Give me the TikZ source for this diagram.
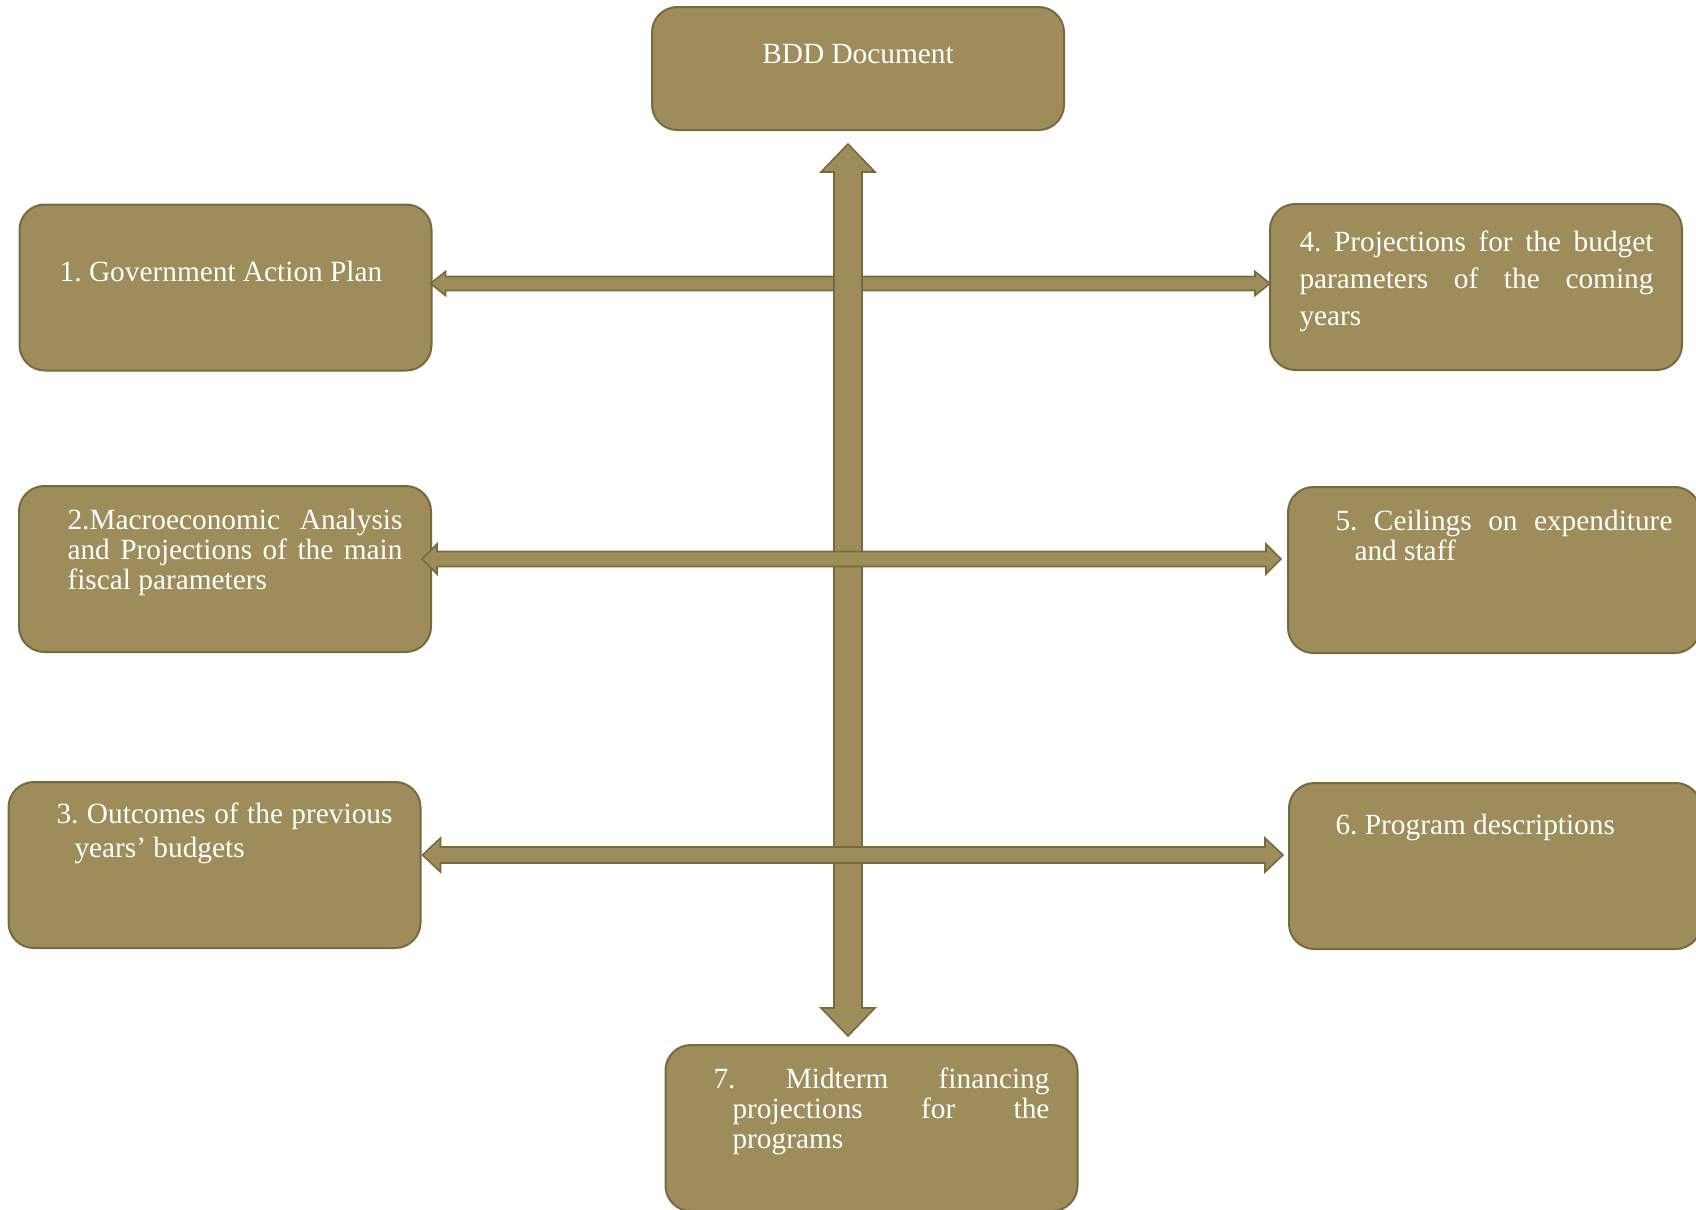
\documentclass[tikz,border=0pt]{standalone}
\usepackage{fontspec}
\setmainfont{Liberation Serif}
\usetikzlibrary{calc}
\frenchspacing

\definecolor{boxfill}{RGB}{158,140,91}
\definecolor{boxline}{RGB}{118,106,62}

% one justified line of a box text
\newcommand{\jline}[2]{\makebox[#1][s]{#2}}

% block arrow with two heads: tips #1 and #2, shaft half width #3, head half width #4, head length #5
\newcommand{\dblarrow}[5]{%
  \coordinate (da-a) at ($(#1)!#5!(#2)$);
  \coordinate (da-b) at ($(#2)!#5!(#1)$);
  \draw[fatarrow] (#1) -- ($(da-a)!#4!90:(#2)$) -- ($(da-a)!#3!90:(#2)$)
    -- ($(da-b)!#3!-90:(#1)$) -- ($(da-b)!#4!-90:(#1)$) -- (#2)
    -- ($(da-b)!#4!90:(#1)$) -- ($(da-b)!#3!90:(#1)$)
    -- ($(da-a)!#3!-90:(#2)$) -- ($(da-a)!#4!-90:(#2)$) -- cycle;
}

\tikzset{every picture/.style={line width=0.75pt}}
\tikzset{
  box/.style={draw=boxline, fill=boxfill, line width=1.5pt, rounded corners=19pt,
    minimum width=309pt, minimum height=124.5pt, inner sep=0pt, outer sep=0pt},
  txt/.style={text=white, font=\fontsize{22}{22.5}\selectfont, inner sep=0pt, align=left},
  fatarrow/.style={draw=boxline, fill=boxfill, line width=1.2pt, line join=miter},
}

\begin{document}
\begin{tikzpicture}[x=0.75pt,y=0.75pt,yscale=-1,xscale=1]
\useasboundingbox (0,0) rectangle (1696,1210);

% Boxes
\node[box, minimum height=92.25pt] (bdd) at (858,68.5) {};
\node[box] (b1) at (225.5,287.5) {};
\node[box] (b4) at (1476,287) {};
\node[box] (b2) at (225,569) {};
\node[box] (b5) at (1494,570) {};
\node[box] (b3) at (214.5,865) {};
\node[box] (b6) at (1495,866) {};
\node[box] (b7) at (871.5,1128) {};

% Text Node
\node[txt, anchor=base] (t0) at (858,63) {BDD Document};
% Text Node
\node[txt, anchor=base] (t1) at (221,281) {1. Government Action Plan};
% Text Node
\node[txt, anchor=north west, font=\fontsize{22}{28}\selectfont] (t4) at (1299,230)
  {\jline{265.5pt}{4. Projections for the budget}\\
   \jline{265.5pt}{parameters of the coming}\\
   years};
% Text Node
\node[txt, anchor=north west] (t2) at (67,509)
  {\jline{251.25pt}{2.Macroeconomic Analysis}\\
   \jline{251.25pt}{and Projections of the main}\\
   fiscal parameters};
% Text Node
\node[txt, anchor=north west] (t5) at (1335,510)
  {\jline{252.75pt}{5. Ceilings on expenditure}\\
   \hspace*{14.25pt}and staff};
% Text Node
\node[txt, anchor=north west, font=\fontsize{22}{25.5}\selectfont] (t3) at (56,802)
  {\jline{252pt}{3. Outcomes of the previous}\\
   \hspace*{13.5pt}years’ budgets};
% Text Node
\node[txt, anchor=base west] (t6) at (1335,834) {6. Program descriptions};
% Text Node
\node[txt, anchor=north west] (t7) at (713,1067)
  {\jline{252pt}{7. Midterm financing}\\
   \hspace*{14.25pt}\jline{237.75pt}{projections for the}\\
   \hspace*{14.25pt}programs};

% Arrow ends
\coordinate (r1a) at ($(b1.east)+(-1,-4)$);
\coordinate (r1b) at ($(b4.west)+(0,-3.5)$);
\coordinate (vtop) at ($(bdd.south)+(-10,14)$);
\coordinate (vbot) at ($(b7.north)+(-23.5,-9)$);
\coordinate (r2a) at ($(b2.east)+(-9,-10)$);
\coordinate (r2b) at ($(b5.west)+(-7,-11)$);
\coordinate (r3a) at ($(b3.east)+(2,-10)$);
\coordinate (r3b) at ($(b6.west)+(-6,-11)$);

% Arrows
\dblarrow{r1a}{r1b}{5.25pt}{9pt}{11.25pt}
\dblarrow{vtop}{vbot}{10.5pt}{20.25pt}{21pt}
\dblarrow{r2a}{r2b}{5.6pt}{11.25pt}{11.25pt}
\dblarrow{r3a}{r3b}{6pt}{12.75pt}{13.5pt}

\end{tikzpicture}
\end{document}
